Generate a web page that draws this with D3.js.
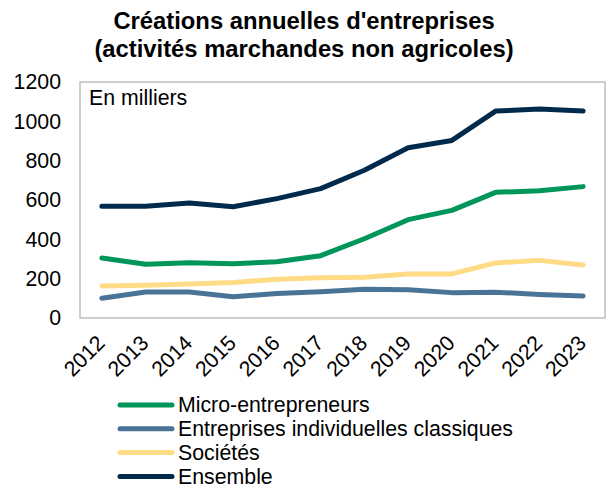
<!DOCTYPE html>
<html>
<head>
<meta charset="utf-8">
<script src="https://cdn.jsdelivr.net/npm/d3@7"></script>
<style>
  body { margin: 0; background: #fff; }
  svg { font-family: "Liberation Sans", Arial, sans-serif; }
</style>
</head>
<body>
<div id="chart"></div>
<script>
let height = 484,
    width = 606,
    margin = ({ top: 82, right: 1, bottom: 166, left: 80 });

// data (thousands)
const years = ["2012","2013","2014","2015","2016","2017","2018","2019","2020","2021","2022","2023"];
const micro = [305, 273, 281, 276, 286, 317, 403, 500, 547, 639, 647, 668];
const eiClassiques = [100, 132, 132, 108, 124, 134, 146, 144, 129, 131, 120, 112];
const societes = [163, 166, 173, 180, 197, 205, 207, 224, 224, 280, 293, 269];
const ensemble = [568, 568, 585, 566, 607, 658, 751, 866, 903, 1052, 1063, 1052];
const yTicks = [0, 200, 400, 600, 800, 1000, 1200];

const series = [
  { name: "Micro-entrepreneurs", values: micro, color: "#00965a" },
  { name: "Entreprises individuelles classiques", values: eiClassiques, color: "#4a7497" },
  { name: "Sociétés", values: societes, color: "#ffdb86" },
  { name: "Ensemble", values: ensemble, color: "#002a4c" }
];

const fs = 21.3; // base font size

const svg = d3.select("#chart")
    .append("svg")
    .attr("width", width)
    .attr("height", height);

let x = d3.scaleBand()
    .domain(years)
    .range([margin.left, width - margin.right]);

let y = d3.scaleLinear()
    .domain([0, 1200])
    .range([height - margin.bottom, margin.top]);

// title
svg.append("text")
    .attr("x", 304)
    .attr("y", 29)
    .attr("text-anchor", "middle")
    .attr("font-size", 23.8)
    .attr("font-weight", "bold")
    .selectAll("tspan")
    .data(["Créations annuelles d'entreprises", "(activités marchandes non agricoles)"])
    .join("tspan")
    .attr("x", 304)
    .attr("dy", (d, i) => i ? 27.5 : 0)
    .text(d => d);

// plot area border
svg.append("rect")
    .attr("x", margin.left)
    .attr("y", margin.top)
    .attr("width", width - margin.right - margin.left)
    .attr("height", height - margin.bottom - margin.top)
    .attr("fill", "none")
    .attr("stroke", "#bfbfbf")
    .attr("stroke-width", 1.5);

// y axis labels
svg.append("g")
    .attr("transform", `translate(${margin.left},0)`)
    .call(d3.axisLeft(y).tickValues(yTicks).tickFormat(d3.format("d")).tickSize(0).tickPadding(19))
    .call(g => g.select(".domain").remove())
    .selectAll("text")
    .attr("font-size", fs)
    .attr("font-family", "Liberation Sans, Arial, sans-serif")
    .attr("fill", "#000");

// x axis labels, rotated
svg.append("g")
    .attr("transform", `translate(0,${height - margin.bottom})`)
    .call(d3.axisBottom(x).tickSize(0).tickPadding(0))
    .call(g => g.select(".domain").remove())
    .selectAll("text")
    .attr("font-size", fs)
    .attr("font-family", "Liberation Sans, Arial, sans-serif")
    .attr("fill", "#000")
    .attr("text-anchor", "end")
    .attr("dy", "0.35em")
    .attr("transform", "translate(-1,21) rotate(-45)");

// in milliers note
svg.append("text")
    .attr("x", 89)
    .attr("y", 105)
    .attr("font-size", fs)
    .text("En milliers");

const line = d3.line()
    .x((d, i) => x(years[i]) + x.bandwidth() / 2)
    .y(d => y(d));

svg.append("g")
    .selectAll("path")
    .data(series)
    .join("path")
    .attr("d", d => line(d.values))
    .attr("fill", "none")
    .attr("stroke", d => d.color)
    .attr("stroke-width", 5)
    .attr("stroke-linecap", "round")
    .attr("stroke-linejoin", "round");

// legend
const legend = svg.append("g")
    .selectAll("g")
    .data(series)
    .join("g")
    .attr("transform", (d, i) => `translate(0,${405 + i * 23.8})`);

legend.append("line")
    .attr("x1", 120)
    .attr("x2", 172)
    .attr("stroke", d => d.color)
    .attr("stroke-width", 5)
    .attr("stroke-linecap", "round");

legend.append("text")
    .attr("x", 178)
    .attr("dy", "0.35em")
    .attr("font-size", fs)
    .text(d => d.name);
</script>
</body>
</html>
